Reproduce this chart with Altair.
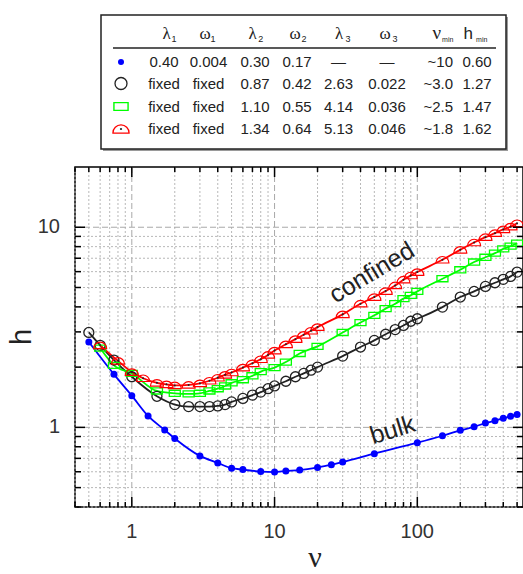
import altair as alt
import pandas as pd

# ---------------- data ----------------
bulk_nu = [0.5, 0.75, 1, 1.3, 1.7, 2, 3, 4, 5, 6, 8, 10, 12, 15, 20, 25, 30, 50,
           100, 150, 200, 250, 300, 350, 400, 450, 500]
bulk_h = [2.67, 1.84, 1.44, 1.14, 0.97, 0.88, 0.72, 0.664, 0.625, 0.615, 0.601, 0.598,
          0.605, 0.612, 0.631, 0.651, 0.671, 0.739, 0.838, 0.908, 0.966, 1.007, 1.05,
          1.08, 1.11, 1.135, 1.16]

c1_nu = [0.5, 0.6, 0.75, 1, 1.5, 2, 2.5, 3, 3.5, 4, 4.5, 5, 6, 7, 8, 9, 10, 12, 14, 16,
         18, 20, 30, 40, 50, 60, 70, 80, 90, 100, 150, 200, 250, 300, 350, 400, 450, 500]
c1_h = [2.98, 2.57, 2.17, 1.79, 1.43, 1.30, 1.27, 1.27, 1.27, 1.28, 1.30, 1.34, 1.395,
        1.45, 1.50, 1.56, 1.61, 1.70, 1.79, 1.86, 1.93, 2.0, 2.27, 2.52, 2.72, 2.92, 3.08,
        3.23, 3.39, 3.49, 3.99, 4.48, 4.78, 5.06, 5.28, 5.49, 5.68, 5.97]

c2_nu = [0.6, 0.75, 1, 1.5, 2, 2.5, 3, 3.5, 4, 4.5, 5, 6, 7, 8, 10, 12, 15, 20, 30, 40,
         50, 60, 70, 80, 90, 100, 150, 200, 250, 300, 350, 400, 450, 500]
c2_h = [2.49, 2.04, 1.86, 1.52, 1.48, 1.47, 1.48, 1.52, 1.56, 1.61, 1.67, 1.73, 1.81,
        1.90, 1.99, 2.12, 2.34, 2.54, 2.98, 3.34, 3.63, 3.92, 4.15, 4.40, 4.57, 4.78,
        5.53, 6.13, 6.70, 7.08, 7.42, 7.80, 8.05, 8.32]

c3_nu = [0.6, 0.8, 1, 1.2, 1.5, 1.75, 2, 2.5, 3, 3.5, 4, 4.5, 5, 6, 7, 8, 9, 10, 12, 14,
         16, 18, 20, 30, 40, 50, 60, 70, 80, 90, 100, 150, 200, 250, 300, 350, 400, 450, 500]
c3_h = [2.57, 2.15, 1.89, 1.76, 1.67, 1.64, 1.62, 1.63, 1.66, 1.71, 1.77, 1.83, 1.88,
        1.99, 2.09, 2.19, 2.30, 2.42, 2.60, 2.76, 2.90, 3.04, 3.17, 3.67, 4.15, 4.48,
        4.80, 5.12, 5.47, 5.74, 5.97, 6.88, 7.71, 8.39, 8.92, 9.34, 9.75, 10.07, 10.47]

label_text = ["confined", "bulk"]
label_nu = [48, 67]
label_h = [5.94, 0.97]
label_angle = [329, 343]

x_major = [1, 10, 100]
x_minor = [0.4, 0.5, 0.6, 0.7, 0.8, 0.9, 2, 3, 4, 5, 6, 7, 8, 9, 20, 30, 40, 50, 60, 70,
           80, 90, 200, 300, 400, 500]
y_major = [1, 10]
y_minor = [0.4, 0.5, 0.6, 0.7, 0.8, 0.9, 2, 3, 4, 5, 6, 7, 8, 9]

table_header = ["λ", "ω", "λ", "ω", "λ", "ω", "ν", "h"]
table_sub = ["1", "1", "2", "2", "3", "3", "min", "min"]
table_rows = [
    ["0.40", "0.004", "0.30", "0.17", "—", "—", "~10", "0.60"],
    ["fixed", "fixed", "0.87", "0.42", "2.63", "0.022", "~3.0", "1.27"],
    ["fixed", "fixed", "1.10", "0.55", "4.14", "0.036", "~2.5", "1.47"],
    ["fixed", "fixed", "1.34", "0.64", "5.13", "0.046", "~1.8", "1.62"],
]

# ---------------- layout / style ----------------
W, H = 448, 340
PL, PT = 75, 167
BLUE, BLACK, GREEN, RED = "#0000ff", "#222222", "#00ff00", "#ff0000"
RECT = "M-1,-0.55L1,-0.55L1,0.55L-1,0.55Z"
DOME = "M-1,0.5A1,1,0,0,1,1,0.5Z"
SANS = "Liberation Sans"
SERIF = "Liberation Serif"

xs = alt.Scale(type="log", domain=[0.4, 550], nice=False)
ys = alt.Scale(type="log", domain=[0.4, 20], nice=False)


def ax(x):
    return x - PL


def ay(y):
    return y - PT


def vdf(vals):
    return pd.DataFrame({"v": vals})


def sdf(nu, h):
    return pd.DataFrame({"nu": nu, "h": h})


X = lambda: alt.X("nu:Q", scale=xs, axis=None)
Y = lambda: alt.Y("h:Q", scale=ys, axis=None)
VX = lambda: alt.X("v:Q", scale=xs, axis=None)
VY = lambda: alt.Y("v:Q", scale=ys, axis=None)

layers = []

# grid lines
for vals, dash, col in [(x_minor, [2, 2], "#b8b8b8"), (x_major, [6, 3], "#a8a8a8")]:
    layers.append(alt.Chart(vdf(vals)).mark_rule(color=col, strokeDash=dash, strokeWidth=1)
                  .encode(x=VX(), y=alt.value(0), y2=alt.value(H)))
for vals, dash, col in [(y_minor, [2, 2], "#b8b8b8"), (y_major, [6, 3], "#a8a8a8")]:
    layers.append(alt.Chart(vdf(vals)).mark_rule(color=col, strokeDash=dash, strokeWidth=1)
                  .encode(y=VY(), x=alt.value(0), x2=alt.value(W)))

# lines
for nu, h, col in [(bulk_nu, bulk_h, BLUE), (c1_nu, c1_h, BLACK), (c2_nu, c2_h, GREEN),
                   (c3_nu, c3_h, RED)]:
    layers.append(alt.Chart(sdf(nu, h)).mark_line(color=col, strokeWidth=1.8, interpolate="monotone")
                  .encode(x=X(), y=Y()))

# markers
layers.append(alt.Chart(sdf(bulk_nu, bulk_h)).mark_circle(size=49, color=BLUE, opacity=1)
              .encode(x=X(), y=Y()))
layers.append(alt.Chart(sdf(c1_nu, c1_h)).mark_point(shape="circle", size=100, filled=False,
                                                     color=BLACK, strokeWidth=1.3, opacity=1)
              .encode(x=X(), y=Y()))
layers.append(alt.Chart(sdf(c2_nu, c2_h)).mark_point(shape=RECT, size=121, filled=False,
                                                     color=GREEN, strokeWidth=1.3, opacity=1)
              .encode(x=X(), y=Y()))
layers.append(alt.Chart(sdf(c3_nu, c3_h)).mark_point(shape=DOME, size=169, filled=False,
                                                     color=RED, strokeWidth=1.2, opacity=1)
              .encode(x=X(), y=Y()))
layers.append(alt.Chart(sdf(c3_nu, c3_h)).mark_circle(size=4, color="#222", opacity=1)
              .encode(x=X(), y=Y()))

# inward ticks on all four sides
for vals, L in [(x_major, 10), (x_minor, 5)]:
    d = vdf(vals)
    layers.append(alt.Chart(d).mark_rule(color="black", strokeWidth=1.5)
                  .encode(x=VX(), y=alt.value(H), y2=alt.value(H - L)))
    layers.append(alt.Chart(d).mark_rule(color="black", strokeWidth=1.5)
                  .encode(x=VX(), y=alt.value(0), y2=alt.value(L)))
for vals, L in [(y_major, 10), (y_minor, 6)]:
    d = vdf(vals)
    layers.append(alt.Chart(d).mark_rule(color="black", strokeWidth=1.5)
                  .encode(y=VY(), x=alt.value(0), x2=alt.value(L)))
    layers.append(alt.Chart(d).mark_rule(color="black", strokeWidth=1.5)
                  .encode(y=VY(), x=alt.value(W), x2=alt.value(W - L)))

# tick labels (drawn through the scales)
layers.append(alt.Chart(vdf(x_major)).mark_text(font=SANS, fontSize=20, color="#333",
                                                align="center", baseline="middle")
              .encode(x=VX(), y=alt.value(ay(532)), text=alt.Text("v:Q", format="d")))
layers.append(alt.Chart(vdf(y_major)).mark_text(font=SANS, fontSize=20, color="#333",
                                                align="right", baseline="middle")
              .encode(y=VY(), x=alt.value(ax(60)), text=alt.Text("v:Q", format="d")))

# curve labels
lab = pd.DataFrame({"t": label_text, "nu": label_nu, "h": label_h})
for i in range(len(label_text)):
    layers.append(alt.Chart(lab.iloc[[i]]).mark_text(font=SANS, fontSize=25, color="#222",
                                                      angle=label_angle[i], align="center",
                                                      baseline="middle")
                  .encode(x=X(), y=Y(), text="t:N"))

# axis titles
layers.append(alt.Chart().mark_text(text="ν", font=SERIF, fontSize=30, color="#222",
                                    align="center", baseline="alphabetic")
              .encode(x=alt.value(ax(315)), y=alt.value(ay(567))))
layers.append(alt.Chart().mark_text(text="h", font=SANS, fontSize=29, color="#222", angle=270,
                                    align="center", baseline="middle")
              .encode(x=alt.value(ax(22)), y=alt.value(ay(337))))

# ---------------- parameter table ----------------
layers.append(alt.Chart().mark_rect(fill="#9a9a9a")
              .encode(x=alt.value(ax(103)), x2=alt.value(ax(508)),
                      y=alt.value(ay(17)), y2=alt.value(ay(151))))
layers.append(alt.Chart().mark_rect(fill="white", stroke="#222", strokeWidth=1.5)
              .encode(x=alt.value(ax(101)), x2=alt.value(ax(506)),
                      y=alt.value(ay(15)), y2=alt.value(ay(149))))
layers.append(alt.Chart().mark_rule(color="#222", strokeWidth=1.5)
              .encode(x=alt.value(ax(113)), x2=alt.value(ax(496)), y=alt.value(ay(48))))

head_x = [166.7, 205, 252.7, 295, 339, 385, 436.7, 468.3]
sub_x = [174, 213, 260.7, 304, 348, 395, 447.7, 481.7]
val_x = [164, 208.5, 255, 297, 338.5, 387, 453, 477]
row_y = [62, 83.5, 106.5, 129]

for j in range(len(table_header)):
    serif = j < 7
    layers.append(alt.Chart().mark_text(text=table_header[j], font=SERIF if serif else SANS,
                                        fontSize=19 if j == 6 else 17, color="#222",
                                        align="center", baseline="alphabetic")
                  .encode(x=alt.value(ax(head_x[j])), y=alt.value(ay(39))))
    layers.append(alt.Chart().mark_text(text=table_sub[j], font=SANS,
                                        fontSize=7 if table_sub[j] == "min" else 9,
                                        color="#222", align="center", baseline="alphabetic")
                  .encode(x=alt.value(ax(sub_x[j])), y=alt.value(ay(42))))

for i, row in enumerate(table_rows):
    for j, s in enumerate(row):
        layers.append(alt.Chart().mark_text(text=s, font=SANS, fontSize=15, color="#222",
                                            align="right" if j == 6 else "center",
                                            baseline="middle")
                      .encode(x=alt.value(ax(val_x[j])), y=alt.value(ay(row_y[i]))))

mx = ax(121)
layers.append(alt.Chart().mark_circle(size=36, color=BLUE, opacity=1)
              .encode(x=alt.value(mx), y=alt.value(ay(row_y[0]))))
layers.append(alt.Chart().mark_point(shape="circle", size=144, filled=False, color=BLACK,
                                     strokeWidth=1.3, opacity=1)
              .encode(x=alt.value(mx), y=alt.value(ay(row_y[1]))))
layers.append(alt.Chart().mark_point(shape=RECT, size=200, filled=False, color=GREEN,
                                     strokeWidth=1.4, opacity=1)
              .encode(x=alt.value(mx), y=alt.value(ay(row_y[2]))))
layers.append(alt.Chart().mark_point(shape=DOME, size=260, filled=False, color=RED,
                                     strokeWidth=1.3, opacity=1)
              .encode(x=alt.value(mx), y=alt.value(ay(row_y[3]))))
layers.append(alt.Chart().mark_circle(size=5, color="#222", opacity=1)
              .encode(x=alt.value(mx), y=alt.value(ay(row_y[3]))))

chart = alt.layer(*layers, data=pd.DataFrame({"d": [0]})).properties(
    width=W, height=H,
    autosize=alt.AutoSizeParams(type="none"),
    padding={"left": PL, "top": PT, "right": 523 - PL - W, "bottom": 574 - PT - H},
    background="white",
).configure_view(stroke="black", strokeWidth=1.5)

chart.save("out.html", embed_options={"renderer": "svg", "actions": False})
